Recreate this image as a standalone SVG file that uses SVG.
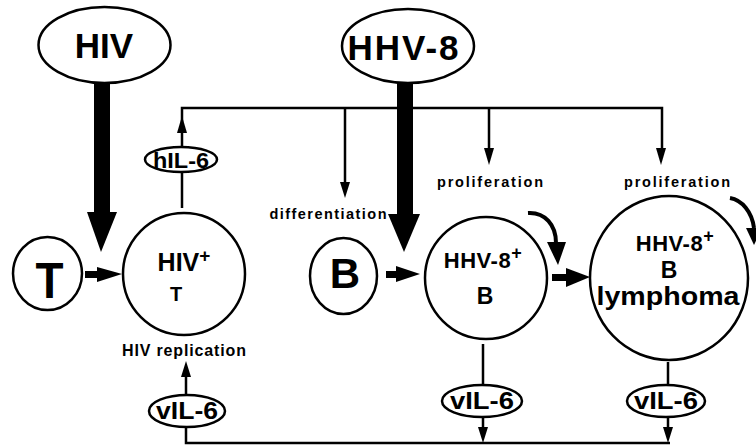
<svg xmlns="http://www.w3.org/2000/svg" width="756" height="446" viewBox="0 0 756 446">
<style>
.n{fill:#fff;stroke:#000;stroke-width:2.5}
.t{font-family:"Liberation Sans",Arial,sans-serif;font-weight:bold;fill:#000;text-anchor:middle}
.ln{fill:none;stroke:#000;stroke-width:2.5}
.hd{fill:#000;stroke:none}
</style>
<rect width="756" height="446" fill="#fff"/>
<g id="connectors">
  <!-- thick virus arrows -->
  <rect class="hd" x="94" y="82" width="16" height="132"/>
  <polygon class="hd" points="87,212 117,212 101,252"/>
  <rect class="hd" x="397" y="82" width="16" height="134"/>
  <polygon class="hd" points="388,214 420,214 404,252"/>
  <!-- top bus -->
  <path class="ln" d="M182,208 V172 M182,147 V108 H662 V150 M345,108 V185 M489,108 V150"/>
  <polygon class="hd" points="182,116 177,133 187,133"/>
  <polygon class="hd" points="345,198 340,182 350,182"/>
  <polygon class="hd" points="489,165 484,148 494,148"/>
  <polygon class="hd" points="661,165 656,148 666,148"/>
  <!-- short thick arrows -->
  <rect class="hd" x="85" y="271" width="14" height="7"/>
  <polygon class="hd" points="97,267 97,282 122,274"/>
  <rect class="hd" x="386" y="271" width="12" height="7"/>
  <polygon class="hd" points="396,266 396,282 420,274"/>
  <rect class="hd" x="552" y="274" width="16" height="7"/>
  <polygon class="hd" points="566,268 566,287 590,277"/>
  <!-- curved arrows -->
  <path d="M528,213 C545,212 556,225 556,243" fill="none" stroke="#000" stroke-width="4"/>
  <polygon class="hd" points="547,242 566,242 558,265"/>
  <path d="M730,198 C742,200 752,212 754,228" fill="none" stroke="#000" stroke-width="4"/>
  <polygon class="hd" points="746,228 762,228 754,245"/>
  <!-- vIL-6 connections -->
  <path class="ln" d="M186,395 V372 M483,344 V385 M483,417 V430 M668,362 V385 M668,417 V430 M186,427 V443 H670"/>
  <polygon class="hd" points="186,361 181,377 191,377"/>
  <polygon class="hd" points="483,443 478,427 488,427"/>
  <polygon class="hd" points="668,443 663,427 673,427"/>
</g>
<g id="hiv">
  <ellipse class="n" cx="104.5" cy="45" rx="66" ry="38"/>
  <text class="t" x="104" y="58" font-size="35">HIV</text>
</g>
<g id="hhv8">
  <ellipse class="n" cx="408" cy="46" rx="66" ry="37"/>
  <text class="t" x="404" y="60" font-size="35" letter-spacing="2">HHV-8</text>
</g>
<g id="hil6">
  <ellipse class="n" cx="181" cy="159.5" rx="36" ry="12.5"/>
  <text class="t" x="181" y="167.5" font-size="22" textLength="56" lengthAdjust="spacingAndGlyphs">hIL-6</text>
</g>
<g id="t-cell">
  <ellipse class="n" cx="47.5" cy="273.5" rx="34.5" ry="36.5"/>
  <text class="t" x="49.5" y="298" font-size="50" textLength="28" lengthAdjust="spacingAndGlyphs">T</text>
</g>
<g id="hiv-t">
  <circle class="n" cx="184" cy="274" r="61"/>
  <text class="t" x="184" y="271" font-size="25">HIV<tspan font-size="19" dy="-9">+</tspan></text>
  <text class="t" x="176" y="301" font-size="20">T</text>
</g>
<g id="hiv-replication-label">
  <text class="t" x="184" y="356" font-size="16" textLength="124" lengthAdjust="spacing">HIV replication</text>
</g>
<g id="vil6-left">
  <ellipse class="n" cx="187" cy="411" rx="38" ry="16"/>
  <text class="t" x="187" y="419" font-size="23" textLength="62" lengthAdjust="spacingAndGlyphs">vIL-6</text>
</g>
<g id="b-cell">
  <ellipse class="n" cx="343.5" cy="276" rx="33.5" ry="38"/>
  <text class="t" x="345" y="288" font-size="42">B</text>
</g>
<g id="labels">
  <text class="t" x="328" y="219" font-size="14.5" textLength="117" lengthAdjust="spacing">differentiation</text>
  <text class="t" x="490" y="187" font-size="14.5" textLength="106" lengthAdjust="spacing">proliferation</text>
  <text class="t" x="677" y="187" font-size="14.5" textLength="106" lengthAdjust="spacing">proliferation</text>
</g>
<g id="hhv8-b">
  <circle class="n" cx="486" cy="278" r="61"/>
  <text class="t" x="483" y="268" font-size="22" letter-spacing="0.5">HHV-8<tspan font-size="18" dy="-9">+</tspan></text>
  <text class="t" x="485" y="304" font-size="23">B</text>
</g>
<g id="lymphoma">
  <ellipse class="n" cx="669" cy="278" rx="79" ry="82"/>
  <text class="t" x="675" y="251" font-size="22" letter-spacing="0.5">HHV-8<tspan font-size="18" dy="-9">+</tspan></text>
  <text class="t" x="669" y="278" font-size="23">B</text>
  <text class="t" x="668" y="305" font-size="25" textLength="143" lengthAdjust="spacingAndGlyphs">lymphoma</text>
</g>
<g id="vil6-mid">
  <ellipse class="n" cx="482" cy="401" rx="40" ry="16"/>
  <text class="t" x="482" y="409" font-size="23" textLength="64" lengthAdjust="spacingAndGlyphs">vIL-6</text>
</g>
<g id="vil6-right">
  <ellipse class="n" cx="666" cy="401" rx="39" ry="16"/>
  <text class="t" x="666" y="409" font-size="23" textLength="64" lengthAdjust="spacingAndGlyphs">vIL-6</text>
</g>
</svg>
